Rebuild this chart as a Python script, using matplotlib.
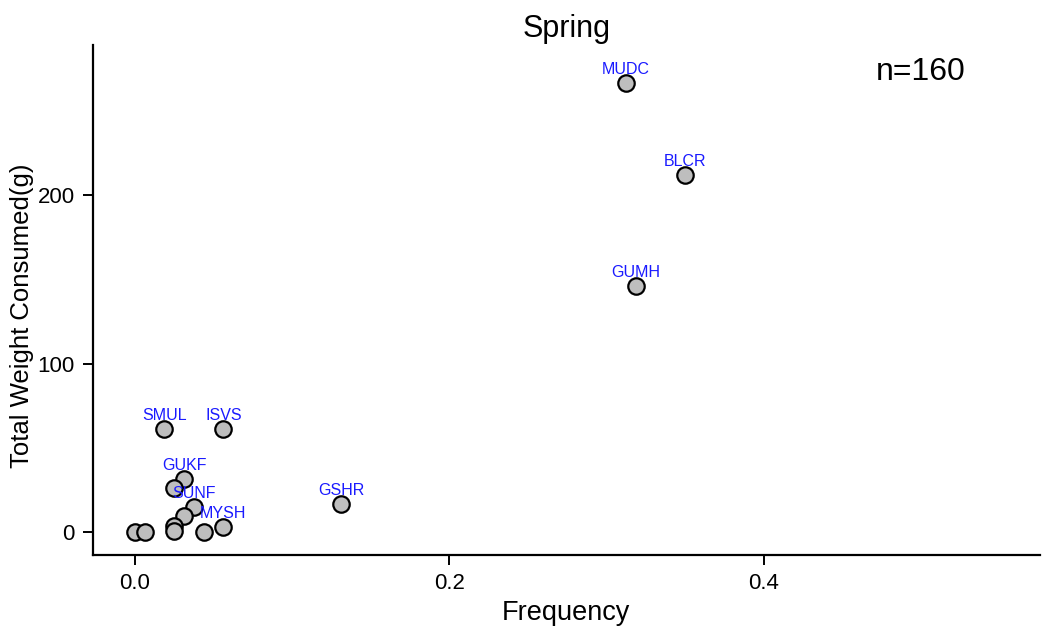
import matplotlib.pyplot as plt

plt.rcParams['font.family'] = ['Liberation Sans', 'DejaVu Sans']

# prey items: frequency of occurrence vs total weight consumed
frequency = [0.3125, 0.35, 0.31875, 0.01875, 0.05625, 0.13125, 0.03125, 0.025,
             0.0375, 0.03125, 0.025, 0.025, 0.0, 0.00625, 0.04375, 0.05625]
weight = [266.5, 212.0, 146.0, 61.0, 61.0, 16.5, 31.5, 26.0,
          15.0, 9.5, 3.7, 0.8, 0.0, 0.0, 0.0, 3.0]
labels = ['MUDC', 'BLCR', 'GUMH', 'SMUL', 'ISVS', 'GSHR', 'GUKF', '',
          'SUNF', '', '', '', '', '', '', 'MYSH']
n_fish = 160

fig = plt.figure(figsize=(10.45, 6.34), dpi=100)
ax = fig.add_axes([0.089, 0.1246, 0.906, 0.8044])

ax.scatter(frequency, weight, s=140, facecolor='#bebebe', edgecolor='black',
           linewidth=1.6, zorder=3)
for fx, wy, lab in zip(frequency, weight, labels):
    if lab:
        ax.annotate(lab, (fx, wy), xytext=(0, 4.5), textcoords='offset points',
                    ha='center', va='bottom', fontsize=11.5, color='#1a1aff',
                    zorder=4)

ax.text(0.5, 273, f'n={n_fish}', ha='center', va='center', fontsize=23)

ax.set_xlim(-0.0267, 0.5757)
ax.set_ylim(-13.6, 289)
ax.set_xticks([0.0, 0.2, 0.4])
ax.set_xticklabels(['0.0', '0.2', '0.4'])
ax.set_yticks([0, 100, 200])

for side in ['top', 'right']:
    ax.spines[side].set_visible(False)
for side in ['left', 'bottom']:
    ax.spines[side].set_linewidth(1.6)
ax.tick_params(axis='both', length=7, width=1.4, labelsize=16, pad=6)

ax.set_title('Spring', fontsize=22, pad=6)
ax.set_xlabel('Frequency', fontsize=19.5, labelpad=4)
ax.set_ylabel('Total Weight Consumed(g)', fontsize=18.5)
ax.yaxis.set_label_coords(-0.062, 0.469)

fig.savefig('out.png', dpi=100)
